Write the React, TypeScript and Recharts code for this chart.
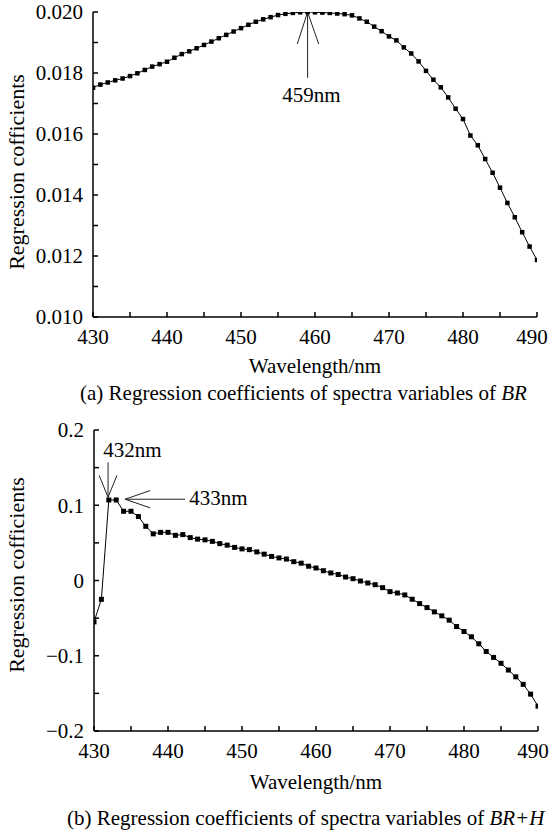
import React from "react";
import { Line, LineChart, ReferenceDot, ReferenceLine, XAxis, YAxis } from "recharts";

const FONT = "'Liberation Serif', 'Times New Roman', serif";

// wavelength, nm (one point per nm)
const WAVELENGTHS = [
  430, 431, 432, 433, 434, 435, 436, 437, 438, 439, 440, 441, 442, 443, 444, 445, 446, 447, 448, 449,
  450, 451, 452, 453, 454, 455, 456, 457, 458, 459, 460, 461, 462, 463, 464, 465, 466, 467, 468, 469,
  470, 471, 472, 473, 474, 475, 476, 477, 478, 479, 480, 481, 482, 483, 484, 485, 486, 487, 488, 489,
  490,
];

// (a) BR
const BR_COEF = [
  0.01752, 0.01762, 0.01769, 0.01776, 0.01782, 0.0179, 0.01799, 0.0181, 0.01821, 0.01829,
  0.01837, 0.0185, 0.01862, 0.01871, 0.01881, 0.01892, 0.01903, 0.01914, 0.01925, 0.01936,
  0.01947, 0.01958, 0.01968, 0.01976, 0.01983, 0.0199, 0.01994, 0.01997, 0.01999, 0.02,
  0.01999, 0.01998, 0.01997, 0.01995, 0.01993, 0.01989, 0.01979, 0.01968, 0.01952, 0.01937,
  0.0192, 0.01907, 0.01884, 0.01864, 0.01838, 0.01807, 0.01778, 0.01753, 0.0172, 0.01683,
  0.01649, 0.01595, 0.01563, 0.01518, 0.01473, 0.01424, 0.01374, 0.01327, 0.01278, 0.01231,
  0.01187,
];

// (b) BR+H
const BRH_COEF = [
  -0.055, -0.025, 0.107, 0.107, 0.092, 0.092, 0.085, 0.072, 0.062, 0.064,
  0.064, 0.06, 0.061, 0.057, 0.055, 0.054, 0.052, 0.049, 0.047, 0.044,
  0.042, 0.041, 0.038, 0.035, 0.032, 0.03, 0.0285, 0.025, 0.023, 0.019,
  0.0166, 0.013, 0.01, 0.008, 0.0046, 0.0024, -0.0007, -0.0033, -0.0056, -0.0095,
  -0.0148, -0.0166, -0.0192, -0.0249, -0.0307, -0.036, -0.0417, -0.047, -0.0527, -0.0612,
  -0.0678, -0.0748, -0.0841, -0.0943, -0.1022, -0.11, -0.119, -0.128, -0.138, -0.151,
  -0.167,
];

const X_TICKS = [430, 435, 440, 445, 450, 455, 460, 465, 470, 475, 480, 485, 490];
const Y_TICKS_A = [0.01, 0.011, 0.012, 0.013, 0.014, 0.015, 0.016, 0.017, 0.018, 0.019, 0.02];
const Y_TICKS_B = [-0.2, -0.15, -0.1, -0.05, 0, 0.05, 0.1, 0.15, 0.2];

const dataA = WAVELENGTHS.map((wl, i) => ({ wl, v: BR_COEF[i] }));
const dataB = WAVELENGTHS.map((wl, i) => ({ wl, v: BRH_COEF[i] }));

const TICK_STYLE = { fontSize: 21, fill: "#000", fontFamily: FONT };
const AX = {
  stroke: "#000",
  strokeWidth: 1.5,
  tickSize: -5,
  tickMargin: 15,
};
const blank = () => "";

const fmtA = (v: number) => (Math.round(v * 1000) % 2 === 0 ? v.toFixed(3) : "");
const fmtB = (v: number) => {
  const k = Math.round(v * 100);
  if (k % 10 !== 0) return "";
  if (k === 0) return "0";
  return (k < 0 ? "\u2212" : "") + (Math.abs(k) / 100).toFixed(1);
};

// bottom tick labels; the last one is pulled in so it stays on the page
function XTick(p: any) {
  const v = p.payload.value;
  if (v % 10 !== 0) return <g />;
  const dx = v === 490 ? -5 : 0;
  return (
    <text x={p.x + dx} y={p.y + 17} textAnchor="middle" fontSize={21} fill="#000" fontFamily={FONT}>
      {v}
    </text>
  );
}

function square(size: number) {
  return (p: any) => (
    <rect
      key={`sq-${p.index}`}
      x={p.cx - size / 2}
      y={p.cy - size / 2}
      width={size}
      height={size}
      fill="#000"
    />
  );
}

const lbl = (value: string) => ({
  value,
  position: "center" as const,
  fontSize: 21,
  fill: "#000",
  fontFamily: FONT,
});

// annotation arrows (data coords)
const ARROW_459 = [
  [{ x: 459, y: 0.02 }, { x: 459, y: 0.01784 }],
  [{ x: 459, y: 0.02 }, { x: 457.6, y: 0.01895 }],
  [{ x: 459, y: 0.02 }, { x: 460.5, y: 0.01895 }],
];
const ARROW_432 = [
  [{ x: 431.9, y: 0.1106 }, { x: 431.9, y: 0.157 }],
  [{ x: 431.9, y: 0.1106 }, { x: 430.7, y: 0.1397 }],
  [{ x: 431.9, y: 0.1106 }, { x: 433.1, y: 0.1397 }],
];
const ARROW_433 = [
  [{ x: 434.2, y: 0.108 }, { x: 442.3, y: 0.108 }],
  [{ x: 434.2, y: 0.108 }, { x: 437.6, y: 0.1195 }],
  [{ x: 434.2, y: 0.108 }, { x: 437.6, y: 0.0965 }],
];

function Panel({
  data,
  yDomain,
  yTicks,
  yFmt,
  left,
  right,
  height,
  dot,
  children,
}: {
  data: { wl: number; v: number }[];
  yDomain: [number, number];
  yTicks: number[];
  yFmt: (v: number) => string;
  left: number;
  right: number;
  height: number;
  dot: number;
  children?: React.ReactNode;
}) {
  return (
    <LineChart
      width={550}
      height={height}
      data={data}
      margin={{ top: 12, right: right, left: 0, bottom: 15 }}
    >
      <XAxis
        dataKey="wl"
        type="number"
        domain={[430, 490]}
        ticks={X_TICKS}
        tick={XTick}
        height={28}
        interval={0}
        allowDataOverflow
        {...AX}
      />
      <XAxis
        xAxisId="top"
        orientation="top"
        dataKey="wl"
        type="number"
        domain={[430, 490]}
        ticks={X_TICKS}
        tickFormatter={blank}
        height={0}
        interval={0}
        {...AX}
      />
      <YAxis
        type="number"
        domain={yDomain}
        ticks={yTicks}
        tickFormatter={yFmt}
        tick={TICK_STYLE}
        width={left}
        interval={0}
        allowDataOverflow
        {...AX}
      />
      <YAxis
        yAxisId="right"
        orientation="right"
        type="number"
        domain={yDomain}
        ticks={yTicks}
        tickFormatter={blank}
        width={0}
        interval={0}
        {...AX}
      />
      {children}
      <Line
        type="linear"
        dataKey="v"
        stroke="#000"
        strokeWidth={1}
        dot={square(dot)}
        activeDot={false}
        isAnimationActive={false}
      />
    </LineChart>
  );
}

function arrows(segs: { x: number; y: number }[][], id: string) {
  return segs.map((s, i) => (
    <ReferenceLine key={`${id}-${i}`} segment={s} stroke="#222" strokeWidth={1} ifOverflow="visible" />
  ));
}

export default function App() {
  return (
    <div
      style={{
        position: "absolute",
        left: 0,
        top: 0,
        width: 550,
        height: 833,
        background: "#fff",
        fontFamily: FONT,
      }}
    >
      <div style={{ position: "absolute", left: 0, top: 0 }}>
        <Panel data={dataA} yDomain={[0.01, 0.02]} yTicks={Y_TICKS_A} yFmt={fmtA} left={93} right={13} height={360} dot={4.5}>
          {arrows(ARROW_459, "a459")}
          <ReferenceDot x={459.5} y={0.0173} r={0} fill="none" stroke="none" label={lbl("459nm")} />
        </Panel>
      </div>
      <div style={{ position: "absolute", left: 0, top: 418 }}>
        <Panel data={dataB} yDomain={[-0.2, 0.2]} yTicks={Y_TICKS_B} yFmt={fmtB} left={94} right={12} height={356} dot={5}>
          {arrows(ARROW_432, "a432")}
          {arrows(ARROW_433, "a433")}
          <ReferenceDot x={435.2} y={0.1735} r={0} fill="none" stroke="none" label={lbl("432nm")} />
          <ReferenceDot x={446.8} y={0.11} r={0} fill="none" stroke="none" label={lbl("433nm")} />
        </Panel>
      </div>
      <svg
        width={550}
        height={833}
        style={{ position: "absolute", left: 0, top: 0, pointerEvents: "none" }}
        fontFamily={FONT}
        fontSize={21}
        fill="#000"
      >
        <text x={315} y={373} textAnchor="middle">Wavelength/nm</text>
        <text x={316} y={789} textAnchor="middle">Wavelength/nm</text>
        <text transform="translate(24,172) rotate(-90)" textAnchor="middle" fontSize={22}>
          Regression cofficients
        </text>
        <text transform="translate(24,575) rotate(-90)" textAnchor="middle" fontSize={22}>
          Regression cofficients
        </text>
        <text x={80} y={400}>
          (a) Regression coefficients of spectra variables of <tspan fontStyle="italic">BR</tspan>
        </text>
        <text x={67} y={825}>
          (b) Regression coefficients of spectra variables of <tspan fontStyle="italic">BR+H</tspan>
        </text>
      </svg>
    </div>
  );
}
